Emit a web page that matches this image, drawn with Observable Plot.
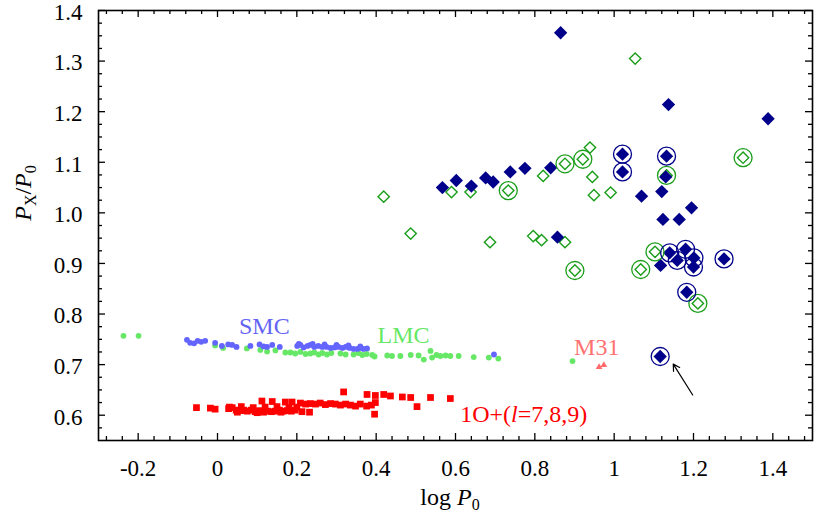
<!DOCTYPE html>
<html><head><meta charset="utf-8">
<script src="https://cdn.jsdelivr.net/npm/d3@7"></script>
<script src="https://cdn.jsdelivr.net/npm/@observablehq/plot@0.6"></script>
<style>body{margin:0;background:#fff;} svg, svg text {font-family: "Liberation Serif", "Times New Roman", Times, serif !important;}</style>
</head><body><div id="chart"></div>
<script>
// ---- Fundamental-mode stars (filled navy diamonds) ----
const blueLogP  = [0.865,1.137,1.388,1.021,1.021,1.132,1.130,1.069,1.120,1.195,1.123,1.164,1.140,1.180,1.201,1.159,1.200,1.277,1.183,1.116,1.117,0.567,0.602,0.640,0.676,0.695,0.738,0.775,0.840,0.857];
const blueRatio = [1.356,1.214,1.186,1.116,1.081,1.112,1.071,1.033,1.042,1.010,0.987,0.987,0.921,0.928,0.911,0.906,0.893,0.909,0.843,0.716,0.896,1.050,1.064,1.053,1.069,1.061,1.081,1.088,1.089,0.952];
// ringed navy stars
const blueRingLogP  = [1.021,1.021,1.132,1.140,1.180,1.201,1.159,1.200,1.277,1.183,1.116];
const blueRingRatio = [1.116,1.081,1.112,0.921,0.928,0.911,0.906,0.893,0.909,0.843,0.716];
// ---- open green diamonds ----
const greenLogP  = [1.053,0.419,0.590,0.638,0.821,0.939,0.945,0.949,0.991,0.487,0.687,0.796,0.817,0.876,0.733,0.876,0.921,1.325,1.132,0.901,1.103,1.067,1.211];
const greenRatio = [1.305,1.032,1.041,1.041,1.073,1.129,1.071,1.035,1.040,0.959,0.942,0.954,0.946,0.942,1.044,1.097,1.106,1.109,1.074,0.886,0.923,0.888,0.821];
const greenRingLogP  = [0.733,0.876,0.921,1.325,1.132,0.901,1.103,1.067,1.211];
const greenRingRatio = [1.044,1.097,1.106,1.109,1.074,0.886,0.923,0.888,0.821];
// ---- SMC ----
const smcLogP  = [-0.077,-0.069,-0.059,-0.050,-0.041,-0.031,-0.006,0.011,0.027,0.037,0.048,0.083,0.106,0.116,0.125,0.138,0.157,0.201,0.209,0.217,0.227,0.234,0.244,0.254,0.264,0.275,0.285,0.295,0.305,0.315,0.323,0.333,0.343,0.353,0.360,0.368,0.377,0.697,0.205,0.240,0.270,0.300,0.330,0.360];
const smcRatio = [0.749,0.743,0.742,0.747,0.745,0.747,0.743,0.737,0.740,0.739,0.735,0.737,0.740,0.736,0.735,0.739,0.735,0.737,0.739,0.734,0.737,0.739,0.735,0.737,0.735,0.735,0.733,0.734,0.735,0.733,0.735,0.733,0.731,0.731,0.733,0.731,0.732,0.720,0.741,0.741,0.740,0.739,0.738,0.736];
// ---- LMC ----
const lmcLogP  = [-0.237,-0.199,-0.006,0.014,0.074,0.108,0.125,0.146,0.171,0.184,0.196,0.209,0.222,0.234,0.244,0.255,0.264,0.276,0.287,0.310,0.323,0.343,0.355,0.365,0.376,0.390,0.396,0.428,0.440,0.461,0.487,0.507,0.520,0.537,0.541,0.552,0.562,0.575,0.587,0.608,0.646,0.684,0.708,0.895];
const lmcRatio = [0.757,0.757,0.738,0.733,0.732,0.729,0.726,0.728,0.724,0.724,0.722,0.725,0.721,0.722,0.724,0.720,0.723,0.720,0.723,0.722,0.720,0.720,0.723,0.719,0.721,0.719,0.716,0.718,0.717,0.717,0.719,0.718,0.710,0.727,0.714,0.719,0.717,0.718,0.717,0.717,0.715,0.714,0.712,0.707];
// ---- 1O+(l=7,8,9) ----
const redLogP  = [-0.053,-0.018,-0.006,0.028,0.037,0.047,0.058,0.066,0.075,0.085,0.095,0.106,0.116,0.126,0.136,0.146,0.156,0.166,0.176,0.186,0.196,0.213,0.232,0.112,0.138,0.171,0.188,0.209,0.222,0.234,0.247,0.259,0.272,0.285,0.297,0.310,0.323,0.335,0.348,0.360,0.318,0.377,0.398,0.398,0.419,0.436,0.466,0.487,0.503,0.537,0.587,0.396,0.388,0.376,0.030,0.060,0.090,0.120,0.150,0.180,0.200,0.050,0.100,0.160];
const redRatio = [0.615,0.614,0.612,0.613,0.615,0.610,0.609,0.610,0.608,0.610,0.607,0.609,0.606,0.608,0.607,0.608,0.610,0.608,0.609,0.608,0.610,0.607,0.606,0.628,0.627,0.626,0.626,0.624,0.622,0.623,0.622,0.624,0.621,0.623,0.622,0.620,0.622,0.620,0.618,0.622,0.646,0.641,0.639,0.625,0.641,0.638,0.636,0.635,0.617,0.635,0.633,0.602,0.620,0.618,0.616,0.617,0.615,0.616,0.617,0.615,0.616,0.606,0.605,0.606];
// ---- M31 ----
const m31LogP  = [0.962,0.974];
const m31Ratio = [0.695,0.699];
// ---- annotations ----
const labelText  = ["SMC","LMC","M31","1O+(l=7,8,9)"];
const labelLogP  = [0.118,0.469,0.956,0.772];
const labelRatio = [0.776,0.757,0.735,0.602];
const labelColor = ["#6464f4","#66e866","#ff7272","#ff0000"];
const arrowFrom = [1.198,0.640];
const arrowTo   = [1.149,0.701];
// ---- ticks ----
const xMajor = [-0.2,0,0.2,0.4,0.6,0.8,1.0,1.2,1.4];
const xTickLabels = ["-0.2","0","0.2","0.4","0.6","0.8","1","1.2","1.4"];
const yMajor = [0.6,0.7,0.8,0.9,1.0,1.1,1.2,1.3,1.4];
const yTickLabels = ["0.6","0.7","0.8","0.9","1.0","1.1","1.2","1.3","1.4"];
const xMinor = d3.range(-7,38).filter(i => i % 5 !== 0).map(i => i*0.04);
const yMinor = d3.range(23,56).filter(i => i % 4 !== 0).map(i => i*0.025);

const pts = (xs, ys) => xs.map((x,i) => ({x, y: ys[i]}));
const labels = labelText.map((t,i) => ({t, x: labelLogP[i], y: labelRatio[i], c: labelColor[i]}));

const W = 830, H = 521, mL = 98, mR = 18, mT = 10, mB = 81;
const fw = W - mL - mR, fh = H - mT - mB;
const tk = {stroke: "black", strokeWidth: 1.3};
const FONT = '"Liberation Serif", "Times New Roman", Times, serif';

const chart = Plot.plot({
  width: W, height: H,
  marginLeft: mL, marginRight: mR, marginTop: mT, marginBottom: mB,
  style: {fontFamily: FONT, background: "white", color: "black"},
  x: {domain: [-0.3, 1.5], label: null},
  y: {domain: [0.55, 1.4], label: null},
  marks: [
    // inward ticks on all sides
    Plot.tickX(xMajor, {x: d => d, insetTop: fh - 7, ...tk}),
    Plot.tickX(xMajor, {x: d => d, insetBottom: fh - 7, ...tk}),
    Plot.tickX(xMinor, {x: d => d, insetTop: fh - 4, ...tk}),
    Plot.tickX(xMinor, {x: d => d, insetBottom: fh - 4, ...tk}),
    Plot.tickY(yMajor, {y: d => d, insetRight: fw - 7, ...tk}),
    Plot.tickY(yMajor, {y: d => d, insetLeft: fw - 7, ...tk}),
    Plot.tickY(yMinor, {y: d => d, insetRight: fw - 4, ...tk}),
    Plot.tickY(yMinor, {y: d => d, insetLeft: fw - 4, ...tk}),
    Plot.axisX({ticks: xMajor, tickSize: 0, tickPadding: 19, fontSize: 23, label: null,
      tickFormat: d => xTickLabels[xMajor.findIndex(v => Math.abs(v - d) < 1e-9)]}),
    Plot.axisY({ticks: yMajor, tickSize: 0, tickPadding: 16, fontSize: 23, label: null, dy: 2,
      tickFormat: d => yTickLabels[yMajor.findIndex(v => Math.abs(v - d) < 1e-9)]}),
    // bands
    Plot.dot(pts(lmcLogP, lmcRatio), {x: "x", y: "y", r: 2.9, fill: "#66e866"}),
    Plot.dot(pts(smcLogP, smcRatio), {x: "x", y: "y", r: 2.9, fill: "#6464ff"}),
    Plot.dot(pts(redLogP, redRatio), {x: "x", y: "y", r: 3.8, symbol: "square", fill: "#ff0000"}),
    Plot.dot(pts(m31LogP, m31Ratio), {x: "x", y: "y", r: 2.5, symbol: "triangle", fill: "#ff6a6a"}),
    // diamonds
    Plot.dot(pts(greenLogP, greenRatio), {x: "x", y: "y", r: 5.1, symbol: "diamond2", fill: "none", stroke: "#1a9e1a", strokeWidth: 1.4}),
    Plot.dot(pts(blueLogP, blueRatio), {x: "x", y: "y", r: 6, symbol: "diamond2", fill: "#00008b"}),
    Plot.dot(pts(greenRingLogP, greenRingRatio), {x: "x", y: "y", r: 9, fill: "none", stroke: "#1a9e1a", strokeWidth: 1.3}),
    Plot.dot(pts(blueRingLogP, blueRingRatio), {x: "x", y: "y", r: 9, fill: "none", stroke: "#00008b", strokeWidth: 1.3}),
    // annotations
    Plot.text(labels, {x: "x", y: "y", text: "t", fill: "c", fontSize: 24, textAnchor: "middle"}),
    Plot.arrow([{x1: arrowFrom[0], y1: arrowFrom[1], x2: arrowTo[0], y2: arrowTo[1]}],
      {x1: "x1", y1: "y1", x2: "x2", y2: "y2", stroke: "black", strokeWidth: 1.2, headLength: 9}),
    Plot.frame({stroke: "black", strokeWidth: 1.6})
  ]
});
document.getElementById("chart").append(chart);

const svg = d3.select(chart);
// italic l in the 1O label
svg.selectAll("text").filter(function(){ return this.textContent === "1O+(l=7,8,9)"; })
  .each(function(){
    const t = d3.select(this); t.text(null);
    t.append("tspan").text("1O+(");
    t.append("tspan").attr("font-style","italic").text("l");
    t.append("tspan").text("=7,8,9)");
  });
// axis titles
const yt = svg.append("text").attr("transform","translate(31,193) rotate(-90)")
  .attr("text-anchor","middle").attr("font-size",24).attr("font-family",FONT).attr("fill","black");
yt.append("tspan").attr("font-style","italic").text("P");
yt.append("tspan").attr("font-size",16).attr("dy",5).text("X");
yt.append("tspan").attr("dy",-5).text("/");
yt.append("tspan").attr("font-style","italic").text("P");
yt.append("tspan").attr("font-size",16).attr("dy",5).text("0");
const xt = svg.append("text").attr("x",450).attr("y",505)
  .attr("text-anchor","middle").attr("font-size",24).attr("font-family",FONT).attr("fill","black");
xt.append("tspan").text("log ");
xt.append("tspan").attr("font-style","italic").text("P");
xt.append("tspan").attr("font-size",16).attr("dy",5).text("0");
</script></body></html>
